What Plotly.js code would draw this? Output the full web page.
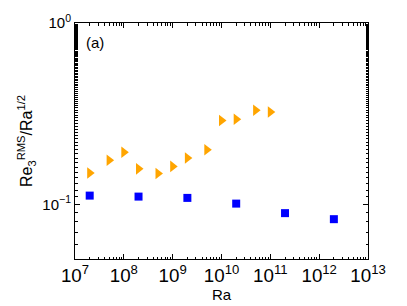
<!DOCTYPE html>
<html>
<head>
<meta charset="utf-8">
<script src="https://cdn.plot.ly/plotly-3.0.1.min.js"></script>
<style>html,body{margin:0;padding:0;background:#fff;}#chart{width:407px;height:306px;}</style>
</head>
<body>
<div id="chart"></div>
<script>
const raSquares = [2e7, 2e8, 2e9, 2e10, 2e11, 2e12];
const reSquares = [0.1118, 0.1104, 0.1086, 0.1010, 0.0895, 0.0829];
const raTriangles = [2e7, 5e7, 1e8, 2e8, 5e8, 1e9, 2e9, 5e9, 1e10, 2e10, 5e10, 1e11];
const reTriangles = [0.149, 0.175, 0.194, 0.157, 0.148, 0.162, 0.180, 0.200, 0.290, 0.295, 0.330, 0.323];

const font = {family: 'Liberation Sans, Arial, sans-serif', color: '#000'};

const data = [
  {x: raTriangles, y: reTriangles, type: 'scatter', mode: 'markers',
   marker: {symbol: 'triangle-right', size: 10, color: '#ffa500', line: {width: 0}}},
  {x: raSquares, y: reSquares, type: 'scatter', mode: 'markers',
   marker: {symbol: 'square', size: 8, color: '#0000ff', line: {width: 0}}}
];

const axisCommon = {
  type: 'log', showgrid: false, zeroline: false, showline: true, mirror: 'ticks',
  linecolor: '#000', linewidth: 1, ticks: 'inside', ticklen: 5, tickcolor: '#000',
  exponentformat: 'power', dtick: 1,
  minor: {ticks: 'inside', ticklen: 2.5, tickcolor: '#000', showgrid: false},
  tickfont: Object.assign({size: 15}, font)
};

const layout = {
  width: 407, height: 306,
  margin: {l: 75, r: 39, t: 23, b: 47},
  paper_bgcolor: '#fff', plot_bgcolor: '#fff',
  showlegend: false,
  xaxis: Object.assign({}, axisCommon, {
    range: [7, 13],
    title: {text: 'Ra', font: Object.assign({size: 15}, font), standoff: 3}
  }),
  yaxis: Object.assign({}, axisCommon, {
    range: [Math.log10(0.05), 0],
    tickvals: [0.1, 1],
    ticktext: ['10<sup>−1</sup>', '10<sup>0</sup>'],
    title: {text: 'Re<sub>3</sub><sup>RMS</sup>/Ra<sup>1/2</sup>', font: Object.assign({size: 16}, font), standoff: 5}
  }),
  annotations: [{
    text: '(a)', xref: 'paper', yref: 'paper', x: 0.03, y: 0.96,
    xanchor: 'left', yanchor: 'top', showarrow: false,
    font: Object.assign({size: 15}, font)
  }]
};

Plotly.newPlot('chart', data, layout, {displayModeBar: false, staticPlot: true});
</script>
</body>
</html>
